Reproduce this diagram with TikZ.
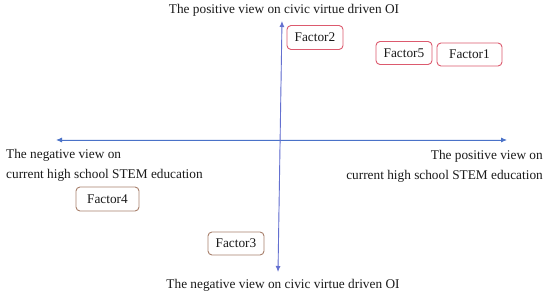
\documentclass[tikz,border=0pt]{standalone}
\usepackage{fontspec}
\setmainfont{Liberation Serif}
\usetikzlibrary{arrows.meta}
\definecolor{axisblue}{HTML}{4A72C8}
\definecolor{axisviolet}{HTML}{6470D0}
\definecolor{boxred}{HTML}{DC5A6E}
\definecolor{boxbrown}{HTML}{A8806C}
\definecolor{textcol}{HTML}{1A1A1A}
\begin{document}
\begin{tikzpicture}[x=1pt,y=-1pt,
  factorbox/.style={draw, rounded corners=4pt, line width=0.9pt, fill=white, text=textcol,
    inner sep=0pt, minimum height=23pt, font=\fontsize{13.3}{15}\selectfont},
  redbox/.style={factorbox, draw=boxred},
  brownbox/.style={factorbox, draw=boxbrown},
  axislabel/.style={font=\fontsize{13.3}{20}\selectfont, inner sep=0pt, text=textcol},
  axisarrow/.style={line width=0.9pt, {Latex[length=6pt,width=5pt]}-{Latex[length=6pt,width=5pt]}}
]
\useasboundingbox (0,0) rectangle (550,296);
\fill[white] (0,0) rectangle (550,296);

\coordinate (hl) at (56,140);
\coordinate (hr) at (507,140);
\coordinate (vt) at (282,21);
\coordinate (vb) at (278,272);
\draw[axisarrow, draw=axisblue, fill=axisblue] (hl) -- (hr);
\draw[axisarrow, draw=axisviolet, fill=axisviolet] (vt) -- (vb);

\node[axislabel] (top) at (284,10) {The positive view on civic virtue driven OI};
\node[axislabel] (bottom) at (283,285) {The negative view on civic virtue driven OI};
\node[axislabel, align=left, anchor=west] (left) at (6,165) {The negative view on\\current high school STEM education};
\node[axislabel, align=right, anchor=east] (right) at (543,166) {The positive view on\\current high school STEM education};

\node[redbox, minimum width=56pt, minimum height=24pt] (f2) at (315,37.5) {Factor2};
\node[redbox, minimum width=56pt] (f5) at (404,53) {Factor5};
\node[redbox, minimum width=65pt] (f1) at (469.5,54.5) {Factor1};
\node[brownbox, minimum width=63pt, minimum height=24pt] (f4) at (107.5,199) {Factor4};
\node[brownbox, minimum width=56pt] (f3) at (236,243.5) {Factor3};
\end{tikzpicture}
\end{document}
